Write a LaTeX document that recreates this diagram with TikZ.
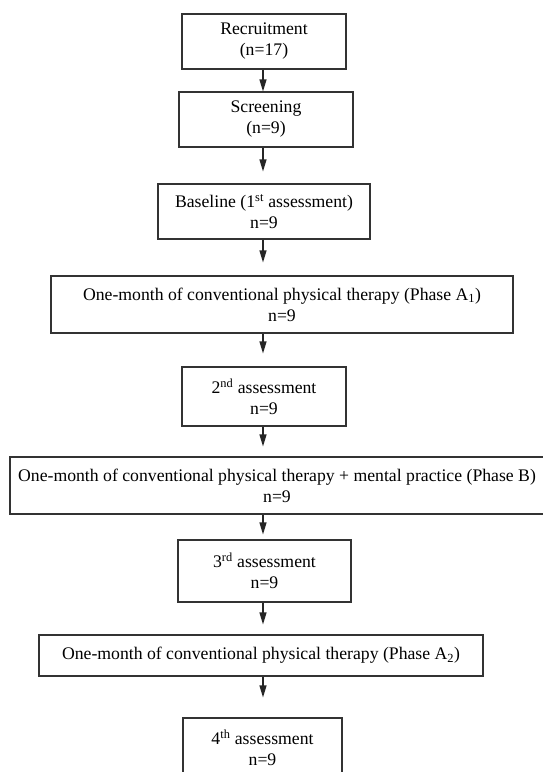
\documentclass[tikz,border=0pt]{standalone}
\usepackage{fontspec}
\setmainfont{Liberation Serif}
\usetikzlibrary{arrows.meta}
\tikzset{%
    stage/.style={draw=black!80, line width=1.1pt, align=center, inner sep=0pt,
        font=\fontsize{17.7}{21}\selectfont},
    flow/.style={line width=1.1pt, black!85, -{Triangle[length=12pt,width=7pt]}}
}

\begin{document}
\begin{tikzpicture}[x=1pt,y=-1pt]
        \useasboundingbox (0,0) rectangle (542,772);
        \coordinate (spine) at (263,0);
        \node[stage, minimum width=164pt, minimum height=55pt] (recruit) at (264,41.5){Recruitment\\(n=17)};
        \node[stage, minimum width=174pt, minimum height=55pt] (screen) at (266,119.5){Screening\\(n=9)};
        \node[stage, minimum width=212pt, minimum height=55pt] (base) at (264,211.5){Baseline (1\textsuperscript{st} assessment)\\n=9};
        \node[stage, minimum width=462pt, minimum height=57pt] (phaseAone) at (282,304.5){One-month of conventional physical therapy (Phase A\textsubscript{1})\\n=9};
        \node[stage, minimum width=164pt, minimum height=59pt] (assessTwo) at (264,396.5){2\textsuperscript{nd} assessment\\n=9};
        \node[stage, minimum width=534pt, minimum height=57pt] (phaseB) at (277,485.5){One-month of conventional physical therapy + mental practice (Phase B)\\n=9};
        \node[stage, minimum width=173pt, minimum height=62pt] (assessThree) at (264.5,571){3\textsuperscript{rd} assessment\\n=9};
        \node[stage, minimum width=444pt, minimum height=41pt] (phaseAtwo) at (261,655.5){One-month of conventional physical therapy (Phase A\textsubscript{2})};
        \node[stage, minimum width=159pt, minimum height=60pt] (assessFour) at (262.5,748){4\textsuperscript{th} assessment\\n=9};
        \path[flow]
            (recruit.south -| spine) edge (screen.north -| spine)
            (screen.south -| spine) edge[shorten >=12pt] (base.north -| spine)
            (base.south -| spine) edge[shorten >=13pt] (phaseAone.north -| spine)
            (phaseAone.south -| spine) edge[shorten >=13pt] (assessTwo.north -| spine)
            (assessTwo.south -| spine) edge[shorten >=10pt] (phaseB.north -| spine)
            (phaseB.south -| spine) edge[shorten >=5pt] (assessThree.north -| spine)
            (assessThree.south -| spine) edge[shorten >=10pt] (phaseAtwo.north -| spine)
            (phaseAtwo.south -| spine) edge[shorten >=20pt] (assessFour.north -| spine);
    \end{tikzpicture}
\end{document}
